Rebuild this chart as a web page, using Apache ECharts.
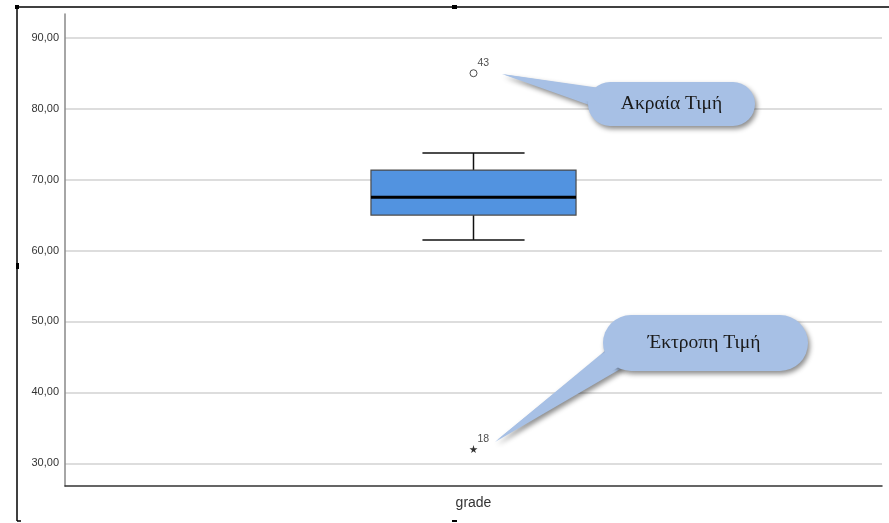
<!DOCTYPE html>
<html>
<head>
<meta charset="utf-8">
<script src="https://cdn.jsdelivr.net/npm/echarts@6/dist/echarts.min.js"></script>
<style>
html,body{margin:0;padding:0;background:#fff;}
#chart{width:889px;height:523px;}
</style>
</head>
<body>
<div id="chart"></div>
<script>
// ---- data ----
const categories = ['grade'];
// [lower whisker, Q1, median, Q3, upper whisker]
const boxStats = [[61.5, 65.0, 67.5, 71.35, 73.75]];
const outlierValues = [85.0];
const outlierIds = ['43'];
const extremeValues = [32.0];
const extremeIds = ['18'];
const yTickValues = [30, 40, 50, 60, 70, 80, 90];
const yMin = 26.8, yMax = 93.35;
const calloutTexts = ['Ακραία Τιμή', 'Έκτροπη Τιμή'];

const chart = echarts.init(document.getElementById('chart'), null, {renderer: 'canvas'});

const starPath = 'path://M50,0 L61,35 L98,35 L68,57 L79,91 L50,70 L21,91 L32,57 L2,35 L39,35 Z';

const boxData = boxStats.map((s, i) => [i].concat(s));

function renderBox(params, api) {
  const xi = api.value(0);
  const lo = api.coord([xi, api.value(1)]);
  const q1 = api.coord([xi, api.value(2)]);
  const med = api.coord([xi, api.value(3)]);
  const q3 = api.coord([xi, api.value(4)]);
  const hi = api.coord([xi, api.value(5)]);
  const band = api.size([1, 0])[0];
  const hb = band * 0.1255;
  const hc = band * 0.0625;
  const cx = lo[0];
  const wStyle = {stroke: '#111', lineWidth: 1.5};
  return {
    type: 'group',
    children: [
      {type: 'line', shape: {x1: cx, y1: hi[1], x2: cx, y2: q3[1]}, style: wStyle},
      {type: 'line', shape: {x1: cx, y1: lo[1], x2: cx, y2: q1[1]}, style: wStyle},
      {type: 'line', shape: {x1: cx - hc, y1: hi[1], x2: cx + hc, y2: hi[1]}, style: wStyle},
      {type: 'line', shape: {x1: cx - hc, y1: lo[1], x2: cx + hc, y2: lo[1]}, style: wStyle},
      {type: 'rect', shape: {x: cx - hb, y: q3[1], width: hb * 2, height: q1[1] - q3[1]},
        style: {fill: '#5293E0', stroke: '#4a4a4a', lineWidth: 1.2}},
      {type: 'line', shape: {x1: cx - hb, y1: med[1], x2: cx + hb, y2: med[1]},
        style: {stroke: '#000', lineWidth: 3}}
    ]
  };
}

const pillFill = '#A7C0E5';
const shadow = {shadowBlur: 5, shadowOffsetX: 2, shadowOffsetY: 3, shadowColor: 'rgba(0,0,0,0.45)'};
const calloutFont = '19.5px "Liberation Serif", "Times New Roman", serif';

const option = {
  animation: false,
  backgroundColor: '#fff',
  grid: {left: 65, right: 7, top: 14, bottom: 37},
  xAxis: {
    type: 'category',
    data: categories,
    boundaryGap: true,
    axisLine: {show: true, lineStyle: {color: '#333', width: 1.5}},
    axisTick: {show: false},
    axisLabel: {color: '#333', fontSize: 14, fontFamily: 'Liberation Sans, Arial, sans-serif', margin: 10},
    splitLine: {show: false}
  },
  yAxis: {
    type: 'value',
    min: yMin,
    max: yMax,
    splitNumber: 5,
    axisLine: {show: true, lineStyle: {color: '#888', width: 1.5}},
    axisTick: {show: false},
    axisLabel: {
      color: '#333', fontSize: 11, fontFamily: 'Liberation Sans, Arial, sans-serif', margin: 6,
      formatter: function (v) {
        const r = Math.round(v);
        if (Math.abs(v - r) < 1e-6 && yTickValues.indexOf(r) >= 0) return r.toFixed(2).replace('.', ',');
        return '';
      }
    },
    splitLine: {show: true, showMinLine: false, showMaxLine: false, lineStyle: {color: '#d2d2d2', width: 1.5}}
  },
  series: [
    {
      type: 'custom',
      renderItem: renderBox,
      data: boxData,
      encode: {x: 0, y: [1, 2, 3, 4, 5]},
      z: 2
    },
    {
      type: 'scatter',
      data: outlierValues.map((v, i) => ({value: [categories[0], v], name: outlierIds[i]})),
      symbol: 'circle',
      symbolSize: 7,
      itemStyle: {color: '#fff', borderColor: '#222', borderWidth: 1},
      label: {show: true, formatter: '{b}', position: 'right', offset: [-5, -10],
        color: '#222', fontSize: 10.5, fontFamily: 'Liberation Sans, Arial, sans-serif'},
      z: 3
    },
    {
      type: 'scatter',
      data: extremeValues.map((v, i) => ({value: [categories[0], v], name: extremeIds[i]})),
      symbol: starPath,
      symbolSize: 8,
      itemStyle: {color: '#000'},
      label: {show: true, formatter: '{b}', position: 'right', offset: [-5, -10],
        color: '#222', fontSize: 10.5, fontFamily: 'Liberation Sans, Arial, sans-serif'},
      z: 3
    }
  ],
  graphic: [
    // frame lines of the screenshot
    {type: 'line', shape: {x1: 17, y1: 7, x2: 889, y2: 7}, style: {stroke: '#000', lineWidth: 1.5}, z: 10},
    {type: 'line', shape: {x1: 17, y1: 7, x2: 17, y2: 521}, style: {stroke: '#000', lineWidth: 1.5}, z: 10},
    {type: 'line', shape: {x1: 17, y1: 521, x2: 21, y2: 521}, style: {stroke: '#000', lineWidth: 1.5}, z: 10},
    {type: 'rect', shape: {x: 15, y: 5, width: 4, height: 4}, style: {fill: '#000'}, z: 10},
    {type: 'rect', shape: {x: 452, y: 5, width: 5, height: 4}, style: {fill: '#000'}, z: 10},
    {type: 'rect', shape: {x: 16, y: 263, width: 3, height: 6}, style: {fill: '#000'}, z: 10},
    {type: 'rect', shape: {x: 452, y: 520, width: 5, height: 2}, style: {fill: '#000'}, z: 10},
    // callout 1
    {type: 'polygon', shape: {points: [[502, 74], [600, 88], [592, 106]]},
      style: Object.assign({fill: pillFill}, shadow), z: 20},
    {type: 'rect', shape: {x: 588, y: 82, width: 167, height: 44, r: 22},
      style: Object.assign({fill: pillFill}, shadow), z: 21},
    {type: 'polygon', shape: {points: [[504, 74.5], [602, 89], [596, 104]]},
      style: {fill: pillFill}, z: 22},
    {type: 'text', x: 671.5, y: 104, style: {text: calloutTexts[0], fill: '#1a1a1a',
      font: calloutFont, align: 'center', verticalAlign: 'middle'}, z: 23},
    // callout 2
    {type: 'polygon', shape: {points: [[495, 442], [606, 350], [622, 368]]},
      style: Object.assign({fill: pillFill}, shadow), z: 20},
    {type: 'rect', shape: {x: 603, y: 315, width: 205, height: 56, r: 28},
      style: Object.assign({fill: pillFill}, shadow), z: 21},
    {type: 'polygon', shape: {points: [[497, 440], [610, 348], [622, 365]]},
      style: {fill: pillFill}, z: 22},
    {type: 'text', x: 704, y: 343, style: {text: calloutTexts[1], fill: '#1a1a1a',
      font: calloutFont, align: 'center', verticalAlign: 'middle'}, z: 23}
  ]
};

chart.setOption(option);
</script>
</body>
</html>
